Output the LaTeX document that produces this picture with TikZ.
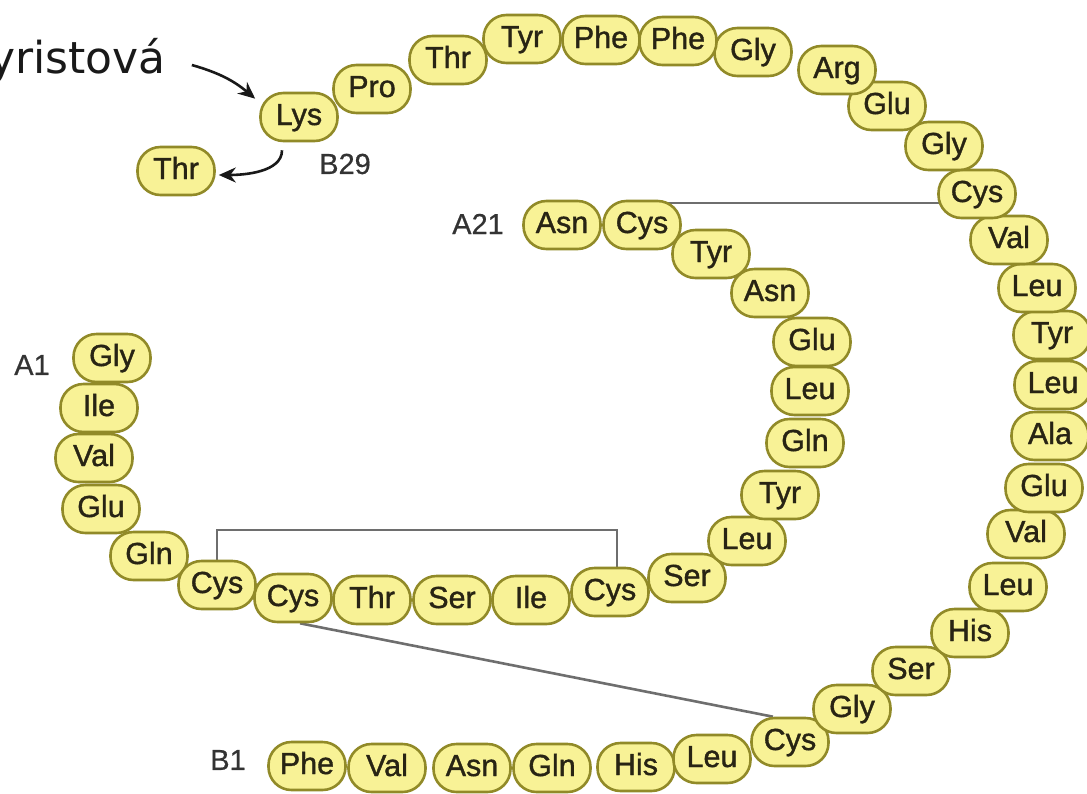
\documentclass[tikz,border=0pt]{standalone}
\usepackage{fontspec}
\setmainfont{Liberation Sans}
\newfontfamily\aafont{Liberation Sans}[FakeBold=1.2]
\newfontfamily\lblfont{Liberation Sans}[FakeBold=0.6]
\newfontfamily\bigfont{DejaVu Sans}
\usetikzlibrary{arrows.meta,backgrounds}
\definecolor{aafill}{RGB}{248,242,150}
\definecolor{aaline}{RGB}{145,138,40}
\definecolor{aatext}{RGB}{40,36,20}
\definecolor{ssline}{RGB}{110,110,110}
\tikzset{
  aa/.style={draw=aaline, fill=aafill, line width=2.6pt, rounded corners=23pt,
    minimum width=77pt, minimum height=48pt, inner sep=0pt, text=aatext,
    text height=20pt, text depth=4pt, font=\aafont\fontsize{30.5}{30.5}\selectfont},
  lbl/.style={text=black!80, inner sep=0pt, font=\lblfont\fontsize{29}{29}\selectfont},
  ss/.style={draw=ssline, line width=2.6pt},
  arr/.style={draw=black!90, line width=2.6pt, -{Stealth[length=17pt,width=15pt]}},
}
\begin{document}
\begin{tikzpicture}[x=1pt,y=-1pt]
\useasboundingbox (0,0) rectangle (1087,793);
% B chain
\node[aa] (b1) at (307,766) {Phe};
\node[aa] (b2) at (387,768) {Val};
\node[aa] (b3) at (472,768) {Asn};
\node[aa] (b4) at (552,768) {Gln};
\node[aa] (b5) at (636,767) {His};
\node[aa] (b6) at (712,759) {Leu};
\node[aa] (b7) at (790,742) {Cys};
\node[aa] (b8) at (852,709) {Gly};
\node[aa] (b9) at (911,671) {Ser};
\node[aa] (b10) at (970,633) {His};
\node[aa] (b11) at (1008,587) {Leu};
\node[aa] (b12) at (1026,534) {Val};
\node[aa] (b13) at (1044,488) {Glu};
\node[aa] (b14) at (1050,436) {Ala};
\node[aa] (b15) at (1053,385) {Leu};
\node[aa] (b16) at (1052,335) {Tyr};
\node[aa] (b17) at (1037,288) {Leu};
\node[aa] (b18) at (1009,240) {Val};
\node[aa] (b19) at (977,194) {Cys};
\node[aa] (b20) at (944,146) {Gly};
\node[aa] (b21) at (887,106) {Glu};
\node[aa] (b22) at (837,70) {Arg};
\node[aa] (b23) at (753,52) {Gly};
\node[aa] (b24) at (678,41) {Phe};
\node[aa] (b25) at (601,40) {Phe};
\node[aa] (b26) at (522,39) {Tyr};
\node[aa] (b27) at (448,60) {Thr};
\node[aa] (b28) at (372,89) {Pro};
\node[aa] (b29) at (299,117) {Lys};
\node[aa] (b30) at (176,171) {Thr};
% A chain
\node[aa] (a1) at (112,358) {Gly};
\node[aa] (a2) at (99,408) {Ile};
\node[aa] (a3) at (94,458) {Val};
\node[aa] (a4) at (101,509) {Glu};
\node[aa] (a5) at (149,556) {Gln};
\node[aa] (a6) at (217,585) {Cys};
\node[aa] (a7) at (293,598) {Cys};
\node[aa] (a8) at (372,600) {Thr};
\node[aa] (a9) at (452,600) {Ser};
\node[aa] (a10) at (531,600) {Ile};
\node[aa] (a11) at (610,592) {Cys};
\node[aa] (a12) at (687,578) {Ser};
\node[aa] (a13) at (747,541) {Leu};
\node[aa] (a14) at (780,495) {Tyr};
\node[aa] (a15) at (805,443) {Gln};
\node[aa] (a16) at (810,391) {Leu};
\node[aa] (a17) at (812,342) {Glu};
\node[aa] (a18) at (770,293) {Asn};
\node[aa] (a19) at (711,254) {Tyr};
\node[aa] (a20) at (642,225) {Cys};
\node[aa] (a21) at (562,225) {Asn};
% labels
\node[lbl] (lA1) at (32,365) {A1};
\node[lbl] (lA21) at (478,224) {A21};
\node[lbl] (lB29) at (345,164) {B29};
\node[lbl] (lB1) at (228,760) {B1};
\node[anchor=base west, inner sep=0pt, text=black!90,
  font=\bigfont\fontsize{44}{44}\selectfont] (myr) at (-11,73) {yristová};
% disulfide bridges
\coordinate (yA) at (0,530);
\coordinate (yB) at (0,203);
\begin{scope}[on background layer]
\draw[ss] (a6.center) -- (a6.center |- yA) -| ([xshift=7pt]a11.center);
\draw[ss] (a20.center |- yB) -- (b19.center |- yB);
\draw[ss] ([xshift=7pt]a7.south) -- ([xshift=-17pt]b7.north);
\end{scope}
% arrows
\draw[arr] ([xshift=26pt,yshift=8pt]myr.base east) to[bend left=12] ([xshift=-4pt,yshift=-7pt]b29.north west);
\draw[arr] ([xshift=-17pt,yshift=-8pt]b29.south) .. controls +(0,22) and +(25,0) .. ([xshift=3pt,yshift=-4pt]b30.east);
\end{tikzpicture}
\end{document}
